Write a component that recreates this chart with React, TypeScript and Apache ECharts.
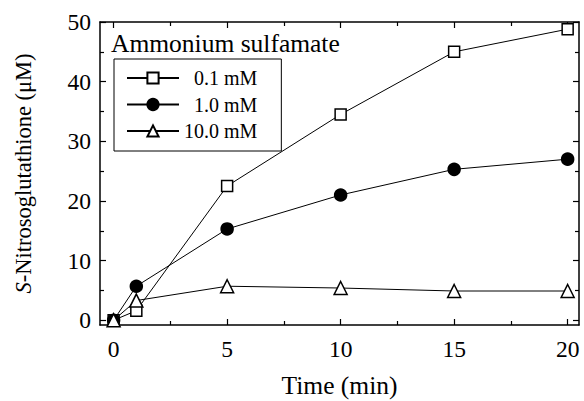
import React, { useEffect, useRef } from "react";
import * as echarts from "echarts";

const times = [0, 1, 5, 10, 15, 20];
const s01 = [0, 1.6, 22.5, 34.5, 45.0, 48.8];
const s10 = [0, 5.7, 15.3, 21.0, 25.3, 27.0];
const s100 = [0, 3.3, 5.7, 5.4, 4.9, 4.9];
const seriesNames = ["0.1 mM", "1.0 mM", "10.0 mM"];
const xMajor = [0, 5, 10, 15, 20];
const xMinor = [2.5, 7.5, 12.5, 17.5];
const yMajor = [0, 10, 20, 30, 40, 50];
const yMinor = [5, 15, 25, 35, 45];

const FONT = "Liberation Serif";
const X_MIN = -0.6, X_MAX = 20.5, Y_MIN = -0.8, Y_MAX = 50;

export default function App() {
  const ref = useRef<HTMLDivElement>(null);
  useEffect(() => {
    const chart = echarts.init(ref.current!, null, { renderer: "svg" });
    const pair = (vals: number[]) => times.map((t, i) => [t, vals[i]]);
    const axisLine = { show: true, onZero: false, lineStyle: { color: "#000", width: 1.5 } };
    const mkX = (position: string, ticks: number[], len: number, labels: boolean, line: boolean) => ({
      type: "value",
      position,
      min: X_MIN,
      max: X_MAX,
      splitLine: { show: false },
      axisLine: { ...axisLine, show: line },
      axisTick: { show: true, inside: true, length: len, customValues: ticks, lineStyle: { color: "#000", width: 1.2 } },
      axisLabel: labels
        ? { show: true, customValues: xMajor, fontFamily: FONT, fontSize: 23.5, color: "#000", margin: 12 }
        : { show: false },
    });
    const mkY = (position: string, ticks: number[], len: number, labels: boolean, line: boolean) => ({
      type: "value",
      position,
      min: Y_MIN,
      max: Y_MAX,
      splitLine: { show: false },
      axisLine: { ...axisLine, show: line },
      axisTick: { show: true, inside: true, length: len, customValues: ticks, lineStyle: { color: "#000", width: 1.2 } },
      axisLabel: labels
        ? { show: true, customValues: yMajor, fontFamily: FONT, fontSize: 23.5, color: "#000", margin: 9 }
        : { show: false },
    });
    const xAxes: any[] = [
      { ...mkX("bottom", xMajor, 6, true, true), name: "Time (min)", nameLocation: "middle", nameGap: 47, nameTextStyle: { fontFamily: FONT, fontSize: 25.5, color: "#000" } },
      mkX("bottom", xMinor, 4, false, false),
      mkX("top", xMajor, 6, false, true),
      mkX("top", xMinor, 4, false, false),
    ];
    const yAxes: any[] = [
      {
        ...mkY("left", yMajor, 6, true, true),
        name: "{it|S}{n|-Nitrosoglutathione (μM)}",
        nameLocation: "middle",
        nameGap: 65,
        nameTextStyle: {
          fontFamily: FONT,
          fontSize: 22.5,
          color: "#000",
          rich: {
            it: { fontFamily: FONT, fontSize: 22.5, fontStyle: "italic", color: "#000" },
            n: { fontFamily: FONT, fontSize: 22.5, color: "#000" },
          },
        },
      },
      mkY("left", yMinor, 4, false, false),
      mkY("right", yMajor, 6, false, true),
      mkY("right", yMinor, 4, false, false),
    ];
    const lineStyle = { color: "#000", width: 1 };
    const mkSeries = (name: string, vals: number[], symbol: string, size: number, fill: string) => ({
      name,
      type: "line",
      data: pair(vals),
      xAxisIndex: 0,
      yAxisIndex: 0,
      symbol,
      symbolSize: size,
      showAllSymbol: true,
      lineStyle,
      itemStyle: { color: fill, borderColor: "#000", borderWidth: 1.5 },
      emphasis: { disabled: true },
    });
    chart.setOption({
      animation: false,
      backgroundColor: "#fff",
      textStyle: { fontFamily: FONT },
      grid: { left: 100, right: 5, top: 22, bottom: 76, containLabel: false, outerBoundsMode: "none" },
      title: {
        text: "Ammonium sulfamate",
        left: 106,
        top: 25,
        textStyle: { fontFamily: FONT, fontSize: 25.5, fontWeight: "normal", color: "#000" },
      },
      legend: {
        orient: "vertical",
        left: 114,
        top: 59,
        padding: [9, 24, 10, 12],
        itemWidth: 52,
        itemHeight: 14,
        itemGap: 6.5,
        borderColor: "#000",
        borderWidth: 1,
        data: [
          { name: seriesNames[0], textStyle: { padding: [0, 0, 0, 10] } },
          { name: seriesNames[1], textStyle: { padding: [0, 0, 0, 10] } },
          { name: seriesNames[2] },
        ],
        textStyle: { fontFamily: FONT, fontSize: 20, color: "#000" },
      },
      xAxis: xAxes,
      yAxis: yAxes,
      series: [
        mkSeries(seriesNames[0], s01, "rect", 11, "#fff"),
        mkSeries(seriesNames[1], s10, "circle", 12, "#000"),
        mkSeries(seriesNames[2], s100, "triangle", 13, "#fff"),
      ],
    });
    return () => chart.dispose();
  }, []);
  return <div ref={ref} style={{ width: 584, height: 401, position: "absolute", left: 0, top: 0 }} />;
}
